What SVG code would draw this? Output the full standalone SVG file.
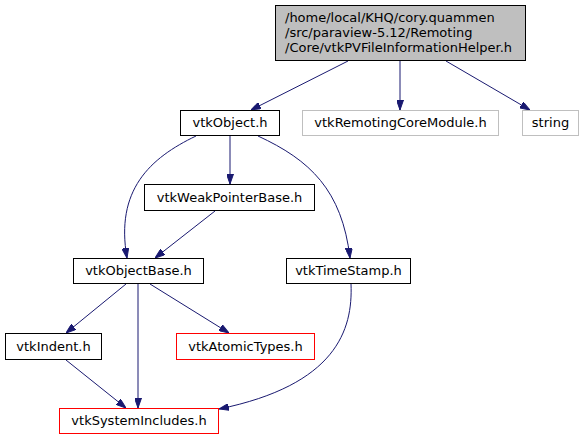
<svg xmlns="http://www.w3.org/2000/svg" width="587" height="440" viewBox="0 0 587 440">
<style>
text{font-family:"DejaVu Sans",sans-serif;font-size:13px;fill:#000}
.n rect{fill:#fff;stroke:#000;stroke-width:1}
.g rect{fill:#fff;stroke:#bfbfbf;stroke-width:1}
.r rect{fill:#fff;stroke:#ff0000;stroke-width:1}
.c{text-anchor:middle}
#edges path{fill:none;stroke:#191970;stroke-width:1;marker-end:url(#a)}
</style>
<defs>
<marker id="a" viewBox="0 0 10 7" refX="10" refY="3.5" markerWidth="10" markerHeight="7" markerUnits="userSpaceOnUse" orient="auto">
<path d="M0,0 L10,3.5 L0,7 Z" fill="#191970" stroke="#191970"/>
</marker>
</defs>
<rect width="587" height="440" fill="#fff"/>
<g id="edges">
<path d="M348,61 L251,110"/>
<path d="M400,61 L400,110"/>
<path d="M446,61 L530,110"/>
<path d="M230,136 L230,184"/>
<path d="M196,136 C150,158 115,190 127,258"/>
<path d="M258,136 C310,160 342,190 350,258"/>
<path d="M215,211 L155,258"/>
<path d="M126,284 L66,333"/>
<path d="M138,284 L138,408"/>
<path d="M150,284 L229,333"/>
<path d="M66,360 L126,408"/>
<path d="M351,284 C353,330 336,385 219,409"/>
</g>
<g id="root" class="n">
<rect x="275.5" y="5.5" width="250" height="55" style="fill:#bfbfbf;stroke:#000"/>
<text x="285" y="22">/home/local/KHQ/cory.quammen</text>
<text x="285" y="37">/src/paraview-5.12/Remoting</text>
<text x="285" y="52">/Core/vtkPVFileInformationHelper.h</text>
</g>
<g id="vtkObject" class="n">
<rect x="180.5" y="110.5" width="99" height="25"/>
<text class="c" x="230" y="127">vtkObject.h</text>
</g>
<g id="vtkRemotingCoreModule" class="g">
<rect x="302.5" y="110.5" width="196" height="25"/>
<text class="c" x="400.5" y="127">vtkRemotingCoreModule.h</text>
</g>
<g id="string" class="g">
<rect x="522.5" y="110.5" width="56" height="25"/>
<text class="c" x="550.5" y="127">string</text>
</g>
<g id="vtkWeakPointerBase" class="n">
<rect x="144.5" y="184.5" width="170" height="26"/>
<text class="c" x="229.5" y="202">vtkWeakPointerBase.h</text>
</g>
<g id="vtkObjectBase" class="n">
<rect x="73.5" y="258.5" width="130" height="25"/>
<text class="c" x="138.5" y="275">vtkObjectBase.h</text>
</g>
<g id="vtkTimeStamp" class="n">
<rect x="286.5" y="258.5" width="124" height="25"/>
<text class="c" x="348.5" y="275">vtkTimeStamp.h</text>
</g>
<g id="vtkIndent" class="n">
<rect x="5.5" y="333.5" width="96" height="26"/>
<text class="c" x="53.5" y="351">vtkIndent.h</text>
</g>
<g id="vtkAtomicTypes" class="r">
<rect x="176.5" y="333.5" width="138" height="26"/>
<text class="c" x="245.5" y="351">vtkAtomicTypes.h</text>
</g>
<g id="vtkSystemIncludes" class="r">
<rect x="59.5" y="408.5" width="159" height="25"/>
<text class="c" x="139" y="425">vtkSystemIncludes.h</text>
</g>
</svg>
